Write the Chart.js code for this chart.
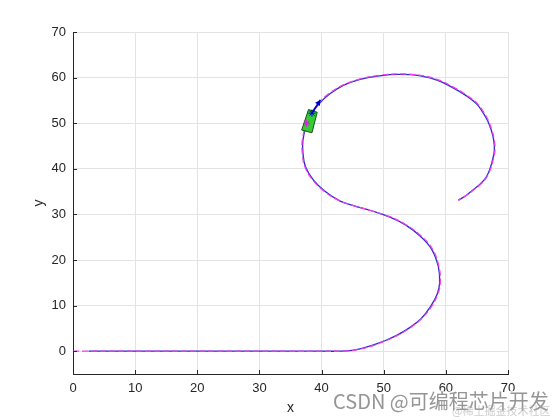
<!DOCTYPE html>
<html>
<head>
<meta charset="utf-8">
<script src="https://cdn.jsdelivr.net/npm/chart.js@4"></script>
<style>
  html, body { margin: 0; padding: 0; background: #fff; }
  #wrap { width: 560px; height: 420px; }
</style>
</head>
<body>
<div id="wrap"><canvas id="track"></canvas></div>
<script>
// reference path (magenta dashed)
let refX = [0, 10, 20, 30, 40, 44, 46, 48, 50, 52, 54, 56, 57.6, 58.7, 59.1, 58.9, 57.8, 56, 53.5, 51, 48, 45, 43, 40.5, 38.6, 37.3, 36.9, 36.9, 37.4, 38.3, 39.6, 41.3, 43.5, 46.2, 49.3, 52.5, 55.9, 58.8, 61.2, 63.3, 65, 66, 66.8, 67.4, 67.8, 67.9, 67.6, 67.2, 66.6, 65.6, 64.4, 63.2, 62];
let refY = [0, 0, 0, 0, 0, 0.05, 0.4, 1.1, 2.1, 3.3, 4.9, 7.0, 9.6, 12.5, 15, 18.5, 22.5, 25.3, 27.8, 29.5, 30.8, 32, 32.9, 35, 37.5, 40.5, 43.5, 46.3, 49.2, 52, 54.5, 56.6, 58.4, 59.7, 60.5, 60.8, 60.5, 59.5, 57.9, 56.2, 54.4, 52.6, 50.7, 48.5, 46.3, 44, 41.9, 40, 38.2, 36.6, 35.3, 34.1, 33.1];

// vehicle trajectory (blue solid)
let carPathX = [2.5, 10, 20, 30, 40, 44, 46, 48, 50, 52, 54, 56, 57.5, 58.6, 59.0, 58.8, 57.7, 55.9, 53.5, 51, 48, 45, 43, 40.6, 38.7, 37.4, 37.0, 37.0, 37.5, 38.4, 39.7, 41.4, 43.5, 46.2, 49.3, 52.5, 55.9, 58.7, 61.1, 63.2, 64.9, 65.9, 66.7, 67.3, 67.7, 67.8, 67.5, 67.1, 66.5, 65.5, 64.3, 63.2, 62];
let carPathY = [0, 0, 0, 0, 0, 0.05, 0.45, 1.2, 2.2, 3.4, 5.0, 7.1, 9.7, 12.5, 15, 18.5, 22.4, 25.2, 27.7, 29.4, 30.8, 32, 32.9, 35, 37.5, 40.5, 43.5, 46.3, 49.2, 52, 54.4, 56.5, 58.3, 59.6, 60.4, 60.7, 60.4, 59.4, 57.8, 56.1, 54.3, 52.5, 50.6, 48.5, 46.3, 44, 41.9, 40, 38.2, 36.6, 35.3, 34.1, 33.1];

// car body corners, heading arrow, markers
let bodyX = [37.9, 39.3, 38.45, 36.8];
let bodyY = [53.0, 52.4, 47.9, 48.5];
let arrowX = [38.45, 39.8];
let arrowY = [52.2, 55.1];
let refMarkX = [37.6];
let refMarkY = [50.0];

let xTicks = [0, 10, 20, 30, 40, 50, 60, 70];
let yTicks = [0, 10, 20, 30, 40, 50, 60, 70];

const toPts = (xs, ys) => xs.map((x, i) => ({ x: x, y: ys[i] }));

const carPlugin = {
  id: "car",
  afterDatasetsDraw(chart) {
    const ctx = chart.ctx;
    const sx = chart.scales.x, sy = chart.scales.y;
    ctx.save();
    // car body
    ctx.beginPath();
    bodyX.forEach((x, i) => {
      const px = sx.getPixelForValue(x), py = sy.getPixelForValue(bodyY[i]);
      if (i === 0) ctx.moveTo(px, py); else ctx.lineTo(px, py);
    });
    ctx.closePath();
    ctx.fillStyle = "#33cc33";
    ctx.fill();
    ctx.strokeStyle = "#115511";
    ctx.lineWidth = 1;
    ctx.stroke();

    // heading arrow
    const ax0 = sx.getPixelForValue(arrowX[0]), ay0 = sy.getPixelForValue(arrowY[0]);
    const ax1 = sx.getPixelForValue(arrowX[1]), ay1 = sy.getPixelForValue(arrowY[1]);
    ctx.strokeStyle = "#0000cc";
    ctx.fillStyle = "#0000cc";
    ctx.lineWidth = 1.5;
    ctx.beginPath();
    ctx.moveTo(ax0, ay0);
    ctx.lineTo(ax1, ay1);
    ctx.stroke();
    const ang = Math.atan2(ay1 - ay0, ax1 - ax0);
    ctx.beginPath();
    ctx.moveTo(ax1, ay1);
    ctx.lineTo(ax1 - 6 * Math.cos(ang - 0.5), ay1 - 6 * Math.sin(ang - 0.5));
    ctx.lineTo(ax1 - 6 * Math.cos(ang + 0.5), ay1 - 6 * Math.sin(ang + 0.5));
    ctx.closePath();
    ctx.fill();

    // star markers
    const star = (px, py, col) => {
      ctx.strokeStyle = col;
      ctx.lineWidth = 1;
      ctx.beginPath();
      for (let k = 0; k < 4; k++) {
        const a = k * Math.PI / 4;
        ctx.moveTo(px - 3.5 * Math.cos(a), py - 3.5 * Math.sin(a));
        ctx.lineTo(px + 3.5 * Math.cos(a), py + 3.5 * Math.sin(a));
      }
      ctx.stroke();
    };
    star(ax0, ay0, "#0000cc");
    star(sx.getPixelForValue(refMarkX[0]), sy.getPixelForValue(refMarkY[0]), "#ff00ff");

    // inward ticks
    ctx.strokeStyle = "#262626";
    ctx.lineWidth = 1;
    ctx.beginPath();
    xTicks.forEach(v => {
      const px = Math.round(sx.getPixelForValue(v)) + 0.5;
      ctx.moveTo(px, sy.bottom);
      ctx.lineTo(px, sy.bottom - 4);
    });
    yTicks.forEach(v => {
      const py = Math.round(sy.getPixelForValue(v)) + 0.5;
      ctx.moveTo(sx.left, py);
      ctx.lineTo(sx.left + 4, py);
    });
    ctx.stroke();
    ctx.restore();
  },
  afterDraw(chart) {
    const ctx = chart.ctx;
    ctx.save();
    ctx.font = "20px 'Noto Sans CJK SC'";
    ctx.textBaseline = "middle";
    ctx.lineWidth = 3;
    ctx.strokeStyle = "rgba(255,255,255,0.8)";
    ctx.strokeText("CSDN @可编程芯片开发", 333, 401);
    ctx.fillStyle = "rgba(130,130,130,0.85)";
    ctx.fillText("CSDN @可编程芯片开发", 333, 401);
    ctx.font = "11px 'Noto Sans CJK SC'";
    ctx.fillStyle = "rgba(170,170,170,0.6)";
    ctx.fillText("@稀土掘金技术社区", 452, 411);
    ctx.restore();
  }
};

let trackChart = new Chart(document.getElementById("track").getContext("2d"), {
  type: "scatter",
  data: {
    datasets: [
      {
        label: "reference",
        data: toPts(refX, refY),
        showLine: true,
        borderColor: "#f040f0",
        borderWidth: 1.3,
        borderDash: [6, 3],
        pointRadius: 0,
        tension: 0.4,
        order: 1,
      },
      {
        label: "actual",
        data: toPts(carPathX, carPathY),
        showLine: true,
        borderColor: "#2a2ac8",
        borderWidth: 1.3,
        pointRadius: 0,
        tension: 0.4,
        order: 2,
      },
    ],
  },
  options: {
    responsive: true,
    maintainAspectRatio: false,
    animation: false,
    layout: { padding: { top: 32, right: 52, left: 0, bottom: 0 } },
    plugins: { legend: { display: false }, tooltip: { enabled: false } },
    scales: {
      x: {
        type: "linear",
        min: 0,
        max: 70,
        afterBuildTicks: (s) => { s.ticks = xTicks.map(v => ({ value: v })); },
        afterFit: (s) => { s.height = 46; },
        grid: { color: "#e3e3e3", tickLength: 0 },
        border: { color: "#262626", width: 1 },
        ticks: { color: "#262626", font: { family: "Liberation Sans", size: 13 }, padding: 7, maxRotation: 0 },
        title: { display: true, text: "x", color: "#262626", font: { family: "Liberation Sans", size: 14 }, padding: { top: 0, bottom: 3 } },
      },
      y: {
        type: "linear",
        min: -5,
        max: 70,
        afterBuildTicks: (s) => { s.ticks = yTicks.map(v => ({ value: v })); },
        afterFit: (s) => { s.width = 73; },
        grid: { color: "#e3e3e3", tickLength: 0 },
        border: { color: "#262626", width: 1 },
        ticks: { color: "#262626", font: { family: "Liberation Sans", size: 13 }, padding: 7 },
        title: { display: true, text: "y", color: "#262626", font: { family: "Liberation Sans", size: 14 }, padding: { top: 31, bottom: 0 } },
      },
    },
  },
  plugins: [carPlugin],
});
</script>
</body>
</html>
